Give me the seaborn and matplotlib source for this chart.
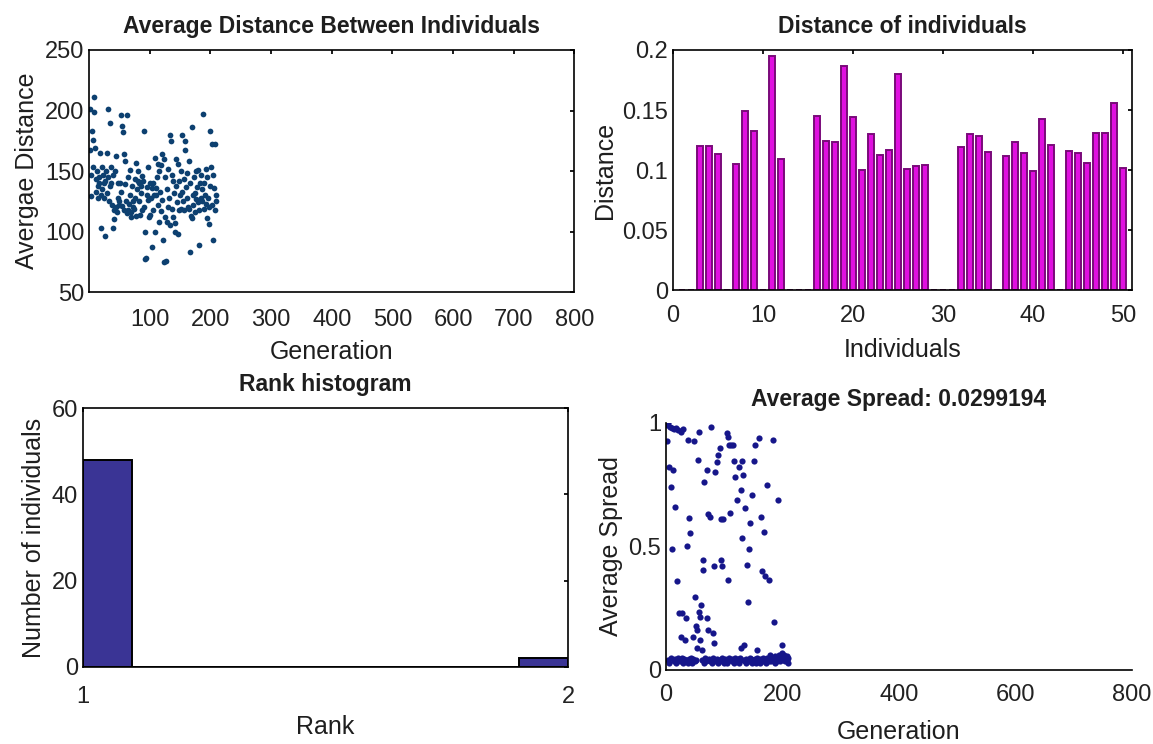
import numpy as np
import pandas as pd
import seaborn as sns
import matplotlib
matplotlib.use("Agg")
import matplotlib.pyplot as plt

# average distance between individuals, one value per generation (1..210)
avg_distance = [
    201, 167, 147, 129, 183, 176, 153, 211, 199, 169,
    143, 133, 150, 138, 128, 145, 140, 165, 103, 130,
    153, 135, 147, 140, 128, 142, 96, 150, 165, 132,
    145, 201, 125, 190, 138, 140, 153, 122, 147, 103,
    118, 110, 150, 162, 120, 116, 140, 128, 122, 125,
    140, 133, 196, 187, 121, 182, 164, 118, 158, 139,
    125, 115, 196, 118, 145, 123, 130, 151, 116, 112,
    138, 120, 125, 119, 143, 128, 157, 113, 135, 150,
    142, 140, 125, 114, 138, 132, 118, 146, 142, 120,
    183, 77, 100, 78, 130, 137, 126, 153, 112, 140,
    114, 128, 136, 87, 140, 118, 130, 161, 100, 136,
    130, 145, 156, 122, 150, 108, 133, 117, 155, 126,
    164, 93, 160, 75, 112, 145, 76, 108, 135, 120,
    152, 128, 180, 105, 175, 119, 147, 112, 142, 132,
    107, 100, 160, 138, 124, 156, 98, 118, 142, 130,
    150, 119, 133, 180, 125, 143, 118, 175, 167, 137,
    128, 148, 120, 158, 119, 83, 140, 113, 186, 111,
    130, 122, 145, 116, 132, 127, 150, 137, 151, 124,
    89, 118, 140, 128, 147, 125, 135, 197, 119, 140,
    130, 152, 123, 111, 145, 128, 106, 120, 138, 183,
    153, 122, 172, 147, 93, 136, 172, 118, 130, 125,
]

# distance of each of the 50 individuals
individual_distance = [
    0, 0, 0.120, 0.120, 0.113, 0, 0.105, 0.149, 0.1325, 0,
    0.195, 0.109, 0, 0, 0, 0.145, 0.124, 0.123, 0.187, 0.144,
    0.100, 0.130, 0.1125, 0.117, 0.180, 0.101, 0.103, 0.104, 0, 0,
    0, 0.1195, 0.130, 0.128, 0.115, 0, 0.112, 0.123, 0.1145, 0.0995,
    0.1425, 0.1205, 0, 0.116, 0.114, 0.1055, 0.131, 0.1305, 0.156, 0.102,
]

# rank histogram
rank_values = [1.05, 1.95]
rank_counts = [48, 2]

# average spread, one value per generation (1..210)
avg_spread = [
    0.99, 0.925, 0.04, 1.0, 0.82, 0.03, 0.985, 0.74, 0.05, 0.49,
    0.98, 0.81, 0.035, 0.975, 0.66, 0.045, 0.98, 0.03, 0.36, 0.05,
    0.97, 0.04, 0.23, 0.035, 0.965, 0.135, 0.05, 0.23, 0.03, 0.975,
    0.045, 0.12, 0.035, 0.21, 0.04, 0.50, 0.03, 0.93, 0.615, 0.045,
    0.035, 0.555, 0.05, 0.04, 0.03, 0.135, 0.045, 0.925, 0.035, 0.297,
    0.04, 0.176, 0.088, 0.162, 0.85, 0.236, 0.965, 0.12, 0.216, 0.264,
    0.04, 0.081, 0.445, 0.405, 0.03, 0.76, 0.05, 0.04, 0.035, 0.21,
    0.81, 0.16, 0.63, 0.045, 0.035, 0.62, 0.04, 0.985, 0.03, 0.05,
    0.15, 0.42, 0.108, 0.80, 0.04, 0.035, 0.84, 0.045, 0.87, 0.03,
    0.04, 0.90, 0.035, 0.61, 0.445, 0.42, 0.05, 0.61, 0.04, 0.03,
    0.045, 0.035, 0.04, 0.96, 0.03, 0.945, 0.365, 0.05, 0.91, 0.635,
    0.04, 0.91, 0.035, 0.045, 0.91, 0.845, 0.03, 0.05, 0.78, 0.04,
    0.035, 0.69, 0.045, 0.04, 0.82, 0.03, 0.05, 0.73, 0.088, 0.845,
    0.535, 0.04, 0.79, 0.10, 0.035, 0.655, 0.045, 0.03, 0.425, 0.277,
    0.04, 0.49, 0.035, 0.05, 0.595, 0.045, 0.03, 0.71, 0.04, 0.035,
    0.845, 0.91, 0.045, 0.04, 0.03, 0.05, 0.081, 0.035, 0.04, 0.94,
    0.045, 0.03, 0.62, 0.04, 0.40, 0.05, 0.035, 0.56, 0.04, 0.38,
    0.045, 0.03, 0.05, 0.75, 0.04, 0.035, 0.365, 0.045, 0.06, 0.04,
    0.035, 0.05, 0.93, 0.04, 0.196, 0.045, 0.03, 0.055, 0.04, 0.035,
    0.05, 0.69, 0.045, 0.06, 0.04, 0.035, 0.055, 0.045, 0.07, 0.10,
    0.05, 0.04, 0.06, 0.035, 0.05, 0.045, 0.055, 0.04, 0.05, 0.0299194,
]

df_dist = pd.DataFrame({"Generation": np.arange(1, len(avg_distance) + 1),
                        "Distance": avg_distance})
df_ind = pd.DataFrame({"Individual": np.arange(1, len(individual_distance) + 1),
                       "Distance": individual_distance})
df_rank = pd.DataFrame({"Rank": rank_values, "Count": rank_counts})
df_spread = pd.DataFrame({"Generation": np.arange(1, len(avg_spread) + 1),
                          "Spread": avg_spread})

sns.set_theme(style="white")
plt.rcParams["font.family"] = ["Liberation Sans", "DejaVu Sans"]
plt.rcParams.update({
    "xtick.direction": "in", "ytick.direction": "in",
    "xtick.major.size": 3, "ytick.major.size": 3,
    "axes.edgecolor": "black", "axes.linewidth": 1.2,
    "xtick.labelsize": 17, "ytick.labelsize": 17,
    "axes.labelsize": 18, "axes.titlesize": 16.5,
    "axes.titleweight": "bold",
    "text.color": "#1e1e1e", "axes.labelcolor": "#1e1e1e",
})

fig = plt.figure(figsize=(11.53, 7.44), dpi=100)
ax1 = fig.add_axes([0.0772, 0.6075, 0.4210, 0.3253])
ax2 = fig.add_axes([0.5837, 0.6102, 0.3981, 0.3226])
ax3 = fig.add_axes([0.0720, 0.1035, 0.4206, 0.3481])
ax4 = fig.add_axes([0.5776, 0.0995, 0.4042, 0.3320])

# top left: average distance
sns.scatterplot(data=df_dist, x="Generation", y="Distance", ax=ax1,
                color="#0d4070", s=17, linewidth=0)
ax1.set_xlim(0, 800)
ax1.set_ylim(50, 250)
ax1.set_xticks(range(100, 801, 100))
ax1.set_yticks(range(50, 251, 50))
ax1.tick_params(axis="x", pad=12)
ax1.set_xlabel("Generation", labelpad=7)
ax1.set_ylabel("Avergae Distance")
ax1.set_title("Average Distance Between Individuals", pad=12)

# top right: distance of individuals
sns.barplot(data=df_ind, x="Individual", y="Distance", ax=ax2, native_scale=True,
            width=0.65, color="#e010e0", edgecolor="#7a0a7a", linewidth=1.4,
            saturation=1)
ax2.set_xlim(0, 51)
ax2.set_ylim(0, 0.2)
ax2.set_xticks(range(0, 51, 10))
ax2.set_yticks([0, 0.05, 0.1, 0.15, 0.2])
ax2.set_yticklabels(["0", "0.05", "0.1", "0.15", "0.2"])
ax2.tick_params(axis="x", pad=11)
ax2.set_xlabel("Individuals", labelpad=8)
ax2.set_ylabel("Distance")
ax2.set_title("Distance of individuals", pad=12)

# bottom left: rank histogram
sns.histplot(data=df_rank, x="Rank", weights="Count", binwidth=0.1, binrange=(1, 2),
             ax=ax3, color="#3a3495", edgecolor="black", linewidth=1.4, alpha=1)
ax3.set_xlim(1, 2)
ax3.set_ylim(0, 60)
ax3.set_xticks([1, 2])
ax3.set_yticks([0, 20, 40, 60])
ax3.tick_params(axis="x", pad=14)
ax3.set_xlabel("Rank", labelpad=5)
ax3.set_ylabel("Number of individuals")
ax3.set_title("Rank histogram", pad=12)

# bottom right: average spread
sns.scatterplot(data=df_spread, x="Generation", y="Spread", ax=ax4,
                color="#16168a", s=20, linewidth=0)
ax4.set_xlim(0, 800)
ax4.set_ylim(0, 1)
ax4.set_xticks(range(0, 801, 200))
ax4.set_yticks([0, 0.5, 1])
ax4.set_yticklabels(["0", "0.5", "1"])
ax4.tick_params(axis="x", pad=10)
ax4.set_xlabel("Generation", labelpad=10)
ax4.set_ylabel("Average Spread")
ax4.set_title("Average Spread: %g" % avg_spread[-1], pad=12)
sns.despine(ax=ax4)

for ax in (ax1, ax2, ax3):
    ax.tick_params(top=True, right=True)
for ax in (ax1, ax2, ax3, ax4):
    ax.tick_params(colors="black", labelcolor="#222222")

fig.savefig("out.png", dpi=100, facecolor="white")
